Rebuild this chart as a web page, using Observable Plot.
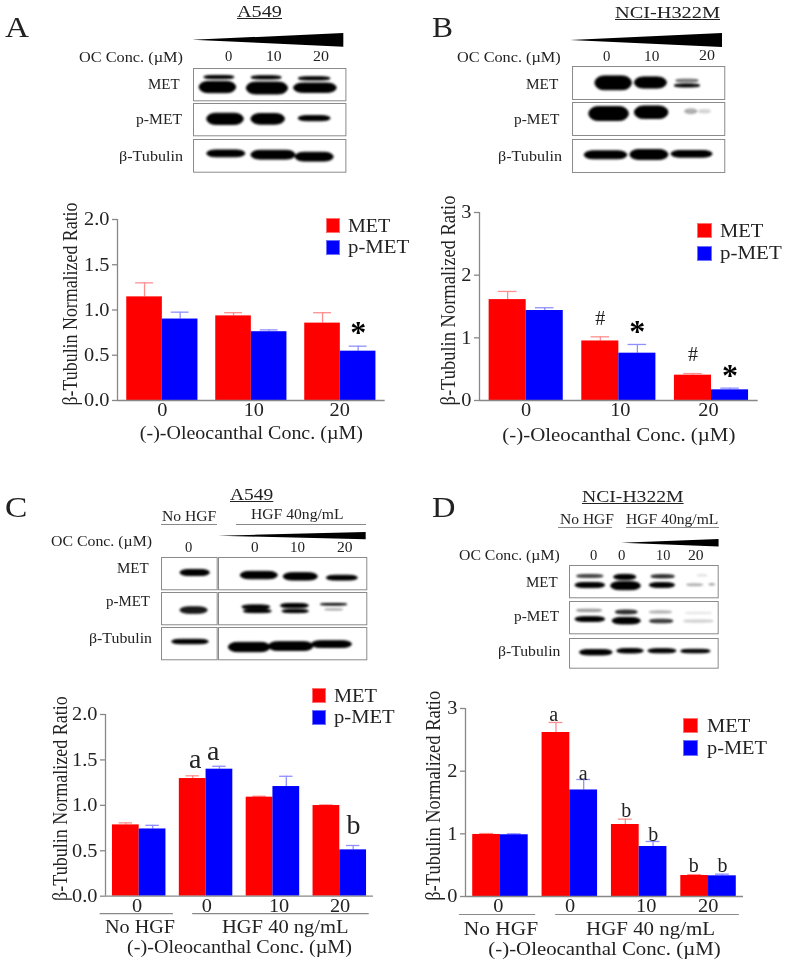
<!DOCTYPE html>
<html>
<head>
<meta charset="utf-8">
<script src="https://cdn.jsdelivr.net/npm/d3@7"></script>
<script src="https://cdn.jsdelivr.net/npm/@observablehq/plot@0.6"></script>
<style>
html,body{margin:0;padding:0;background:#fff}
#page{position:relative;width:787px;height:962px;overflow:hidden;font-family:"Liberation Serif",serif;color:#222;filter:blur(0.35px)}
#page span{position:absolute;white-space:nowrap;line-height:0;transform-origin:left center}
#page svg{position:absolute;overflow:visible}
</style>
</head>
<body>
<div id="page"></div>
<script>
// ---------- bar chart values ----------
const ticksAC = [0, 0.5, 1, 1.5, 2];
const ticksBD = [0, 1, 2, 3];
const seriesNames = ["MET", "p-MET"];
const seriesFill = {"MET": "#ff0000", "p-MET": "#0000ff"};
const seriesErrorColor = {"MET": "#ff8f8f", "p-MET": "#8f8fff"};

const labelsA = ["0", "10", "20"];
const metA = [1.145, 0.935, 0.855];
const metErrA = [1.30, 0.97, 0.97];
const pmetA = [0.90, 0.76, 0.545];
const pmetErrA = [0.976, 0.78, 0.60];

const labelsB = ["0", "10", "20"];
const metB = [1.61, 0.95, 0.404];
const metErrB = [1.74, 1.016, 0.43];
const pmetB = [1.436, 0.755, 0.17];
const pmetErrB = [1.48, 0.894, 0.197];

const labelsC = ["0", "0", "10", "20"];
const metC = [0.785, 1.295, 1.09, 0.998];
const metErrC = [0.807, 1.325, 1.10, 1.005];
const pmetC = [0.74, 1.398, 1.207, 0.51];
const pmetErrC = [0.78, 1.43, 1.32, 0.558];

const labelsD = ["0", "0", "10", "20"];
const metD = [0.99, 2.617, 1.149, 0.335];
const metErrD = [1.005, 2.777, 1.234, 0.35];
const pmetD = [0.985, 1.70, 0.798, 0.33];
const pmetErrD = [1.0, 1.867, 0.878, 0.356];

// significance marks: label, position along the bar axis, height on the value axis
const notesA = [["*", 6.5, 0.807]];
const notesB = [["#", 3.0, 1.31], ["*", 4.0, 1.17], ["#", 5.5, 0.734], ["*", 6.5, 0.479]];
const notesC = [["a", 3.09, 1.51], ["a", 3.77, 1.596], ["b", 9.01, 0.778]];
const notesD = [["a", 2.92, 2.9], ["a", 3.98, 1.963], ["b", 5.53, 1.378], ["b", 6.51, 0.995], ["b", 7.97, 0.489], ["b", 9.0, 0.489]];

// where each tick label sits along the bar axis
const tickAtA = [1, 3.57, 5.98];
const tickAtB = [1, 3.54, 5.92];
const tickAtC = [0.92, 3.53, 6.23, 8.51];
const tickAtD = [0.92, 3.51, 6.25, 8.49];

const hgfGroupsC = [["No HGF", 1.03, -0.46, 2.28], ["HGF 40 ng/mL", 6.46, 3.0, 9.6]];
const hgfGroupsD = [["No HGF", 1.02, -0.48, 2.27], ["HGF 40 ng/mL", 6.41, 2.99, 9.61]];

// ---------- western blot bands: [x1, x2, centre, thickness, darkness], in % of the strip ----------
const blotA = [
  [[7,27,28,10,1],[4,28,59,35,1],[38,58,29,10,1],[35,62,62,37,1],[69,90,32,10,1],[66,94,61,29,1]],
  [[9,33,49,35,1],[38,60,49,33,1],[69,90,47,16,1]],
  [[9,34,44,21,1],[38,67,48,27,1],[67,92,54,27,1]]
];
const blotB = [
  [[15,39,51,42,1],[41,62,50,34,1],[68,83,44,8,0.5],[67,84,59,9,1]],
  [[11,37,35,42,1],[41,63,31,38,1],[74,82,28,14,0.3],[83,91,28,10,0.15]],
  [[8,36,48,24,1],[38,63,47,30,1],[65,92,45,20,1]]
];
const blotCsmall = [
  [[34,87,48,19,1]],
  [[34,83,56,20,0.9]],
  [[19,85,45,14,1]]
];
const blotCbig = [
  [[15,40,56,23,1],[44,67,60,23,1],[73,94,64,15,1]],
  [[16,35,46,12,1],[17,36,59,10,1],[42,61,42,13,1],[43,61,59,10,1],[69,87,38,5,1],[72,84,54,3,0.3]],
  [[7,35,62,29,1],[34,64,59,27,1],[63,90,53,21,1]]
];
const blotD = [
  [[5,23,34,9,0.7],[4,24,62,16,1],[30,45,37,16,1],[28,48,64,25,1],[55,71,35,10,0.8],[54,71,62,15,1],[79,90,61,6,0.25],[94,98,60,4,0.3],[86,93,32,4,0.1]],
  [[5,22,29,7,0.35],[4,24,56,15,1],[31,46,34,12,0.8],[29,48,61,20,1],[54,69,34,7,0.25],[54,70,62,11,0.75],[78,96,37,5,0.08],[77,97,62,7,0.15]],
  [[7,29,48,18,1],[32,50,43,15,1],[53,72,43,14,1],[75,95,44,12,1]]
];
const wedgeDose = [0, 20];
const wedgeSpread = [0, 1];

// ---------- helpers ----------
const page = document.getElementById("page");
const serif = '"Liberation Serif", serif';

function label(text, x0, x1, base, size, opts = {}) {
  const s = document.createElement("span");
  s.textContent = text;
  s.style.fontSize = size + "px";
  s.style.left = x0 + "px";
  s.style.top = (base - 0.3375 * size) + "px";
  if (opts.underline) s.style.textDecoration = "underline";
  page.appendChild(s);
  const w = s.getBoundingClientRect().width;
  s.style.transform = `scaleX(${(x1 - x0) / w})`;
}
function box(x0, x1, y0, y1, color, border) {
  const d = document.createElement("div");
  d.style.cssText = `position:absolute;left:${x0}px;top:${y0}px;width:${x1 - x0}px;height:${y1 - y0}px;background:${color};` + (border ? `outline:1px solid ${border};outline-offset:-1px;` : "");
  page.appendChild(d);
}
function place(svg, left, top) {
  svg.style.left = left + "px";
  svg.style.top = top + "px";
  page.appendChild(svg);
  return svg;
}
function strip(left, top, w, h, bands) {
  const rows = bands.map(([x1, x2, c, t, o]) => ({x1, x2, y1: c - t / 2, y2: c + t / 2, o}));
  place(Plot.plot({
    width: w, height: h, margin: 0,
    style: {background: "transparent", overflow: "visible"},
    x: {domain: [0, 100], axis: null},
    y: {domain: [100, 0], axis: null},
    marks: [
      Plot.rect(rows, {x1: "x1", x2: "x2", y1: "y1", y2: "y2", fill: "#000", fillOpacity: "o", stroke: "#000", strokeOpacity: "o", strokeWidth: 1, rx: 9, ry: 40, imageFilter: "blur(0.85px)"}),
      Plot.frame({stroke: "#8a8a8a", strokeWidth: 1})
    ]
  }), left, top);
}
function wedge(left, top, w, h) {
  const rows = wedgeDose.map((c, i) => ({c, hi: wedgeSpread[i], lo: -wedgeSpread[i]}));
  place(Plot.plot({
    width: w, height: h, margin: 0,
    style: {background: "transparent", overflow: "visible"},
    x: {domain: [0, 20], axis: null},
    y: {domain: [-1, 1], axis: null},
    marks: [Plot.areaY(rows, {x: "c", y1: "lo", y2: "hi", fill: "#000"})]
  }), left, top);
}
function legend(rx0, rx1, ry0, ry1, by0, by1, tx0, metEnd, pmetEnd, mb, pb) {
  box(rx0, rx1, ry0, ry1, seriesFill["MET"], "#ff7070");
  box(rx0, rx1, by0, by1, seriesFill["p-MET"], "#7070ff");
  label("MET", tx0, metEnd, mb, 18);
  label("p-MET", tx0, pmetEnd, pb, 18);
}

function barChart(c) {
  const edge = 0.26;
  const n = c.labels.length;
  const rows = [];
  c.labels.forEach((g, i) => {
    seriesNames.forEach((s, j) => {
      const v = (j ? c.pmet : c.met)[i], e = (j ? c.pmetErr : c.metErr)[i];
      const x = 2.5 * i + j;
      rows.push({series: s, x1: x, x2: x + 1, mid: x + 0.5, capL: x + 0.25, capR: x + 0.75, v, e});
    });
  });
  const tickLabel = new Map(c.tickAt.map((t, i) => [t, c.labels[i]]));
  const notes = c.notes.map(([text, x, y]) => ({text, x, y}));
  const groups = (c.groups || []).map(([text, mid, a, b]) => ({text, mid, a, b, zero: 0}));
  const L = c.axisX - 75, T = c.yTop - 15, W = c.axisEnd - L + 15, H = c.y0 - T + 60;
  const svg = Plot.plot({
    width: W, height: H,
    marginLeft: c.axisX - L, marginRight: L + W - c.axisEnd,
    marginTop: c.yTop - T, marginBottom: T + H - c.y0,
    style: {background: "transparent", overflow: "visible", fontFamily: serif, color: "#222"},
    x: {domain: [-edge, 2.5 * (n - 1) + 2 + edge]},
    y: {domain: [0, c.top]},
    marks: [
      Plot.ruleX(rows, {x: "mid", y1: "v", y2: "e", stroke: d => seriesErrorColor[d.series], strokeWidth: 1.3}),
      Plot.ruleY(rows, {y: "e", x1: "capL", x2: "capR", stroke: d => seriesErrorColor[d.series], strokeWidth: 1.3}),
      Plot.rectY(rows, {x1: "x1", x2: "x2", y1: 0, y2: "v", fill: d => seriesFill[d.series]}),
      Plot.axisY({ticks: c.ticks, tickFormat: c.tickFormat, tickSize: 5, tickPadding: 3, fontSize: 18, stroke: "#888", strokeWidth: 1.3, fill: "#222", label: null}),
      Plot.axisX({ticks: c.tickAt, tickFormat: d => tickLabel.get(d), tickSize: 0, tickPadding: 3, fontSize: 18, fill: "#222", label: null}),
      Plot.ruleX([-edge], {y1: 0, y2: c.top, stroke: "#888", strokeWidth: 1.3}),
      Plot.ruleY([0], {stroke: "#888", strokeWidth: 1.3}),
      Plot.text(notes.filter(d => d.text === "*"), {x: "x", y: "y", text: "text", fontSize: 32, fontWeight: 700, fill: "#000", dy: 5}),
      Plot.text(notes.filter(d => d.text !== "*"), {x: "x", y: "y", text: "text", fontSize: c.noteSize, fill: "#222"}),
      Plot.text([c.yTitle], {frameAnchor: "left", textAnchor: "middle", lineAnchor: "middle", rotate: -90, fontSize: 20, fill: "#222", dx: c.yTitleX - c.axisX, dy: c.yTitleDy}),
      Plot.text([c.xTitle], {frameAnchor: "bottom", lineAnchor: "middle", fontSize: 18, fill: "#222", dy: c.xTitleBase - c.y0 - 5.8}),
      Plot.ruleY(groups, {y: "zero", x1: "a", x2: "b", stroke: "#888", strokeWidth: 1.2, dy: c.groupRuleDy}),
      Plot.text(groups, {x: "mid", text: "text", frameAnchor: "bottom", lineAnchor: "middle", fontSize: 18, fill: "#222", dy: c.groupBase - c.y0 - 5.8})
    ]
  });
  place(svg, L, T);
  const lengths = c.lengths;
  svg.querySelectorAll("text").forEach(t => {
    const s = t.textContent, len = t.getComputedTextLength();
    if (["*", "#", "a", "b"].includes(s)) return;
    const target = lengths[s] ?? len * 1.13;
    t.setAttribute("textLength", target);
    t.setAttribute("lengthAdjust", "spacingAndGlyphs");
  });
}

const yTitle = "β-Tubulin Normalized Ratio";
const xTitle = "(-)-Oleocanthal Conc. (µM)";

// ---------- Panel A ----------
label("A", 5, 29, 36.7, 30);
label("A549", 236.7, 281.7, 17.3, 16, {underline: true});
wedge(192.3, 33.3, 151.4, 13.7);
label("OC Conc. (µM)", 79, 183, 61.7, 15);
label("0", 225, 232.3, 60.7, 15); label("10", 266, 281.7, 60.7, 15); label("20", 313.3, 329.3, 60.7, 15);
label("MET", 147.7, 179.3, 89.3, 15); label("p-MET", 135.7, 181.7, 124, 15); label("β-Tubulin", 119.3, 183.3, 161, 15);
strip(193.3, 67.7, 152.4, 32.3, blotA[0]);
strip(193.3, 103.3, 152.4, 32.3, blotA[1]);
strip(193.3, 139.3, 152.4, 32.7, blotA[2]);
barChart({labels: labelsA, met: metA, metErr: metErrA, pmet: pmetA, pmetErr: pmetErrA, notes: notesA, tickAt: tickAtA,
  axisX: 117.3, axisEnd: 385, yTop: 219.3, y0: 400.3, top: 2, ticks: ticksAC, tickFormat: d3.format(".1f"), noteSize: 20,
  yTitle, xTitle, yTitleX: 70, yTitleDy: -6, xTitleBase: 439, lengths: {[yTitle]: 203, [xTitle]: 223}});
legend(326, 340, 218.3, 233.3, 240, 255, 347.7, 390, 409, 231.7, 253);

// ---------- Panel B ----------
label("B", 432.3, 453.3, 36.7, 30);
label("NCI-H322M", 615, 720, 18.3, 16, {underline: true});
wedge(570, 32.7, 152, 14);
label("OC Conc. (µM)", 457.3, 561, 62.3, 15);
label("0", 603.3, 610.7, 61.3, 15); label("10", 644, 659.3, 61.3, 15); label("20", 699, 715, 60.3, 15);
label("MET", 526, 558.3, 89.3, 15); label("p-MET", 514, 559.3, 124, 15); label("β-Tubulin", 497.7, 561.7, 160.7, 15);
strip(571.7, 66.3, 152.3, 33, blotB[0]);
strip(571.7, 102.3, 152.3, 33, blotB[1]);
strip(571.7, 139, 152.3, 33, blotB[2]);
barChart({labels: labelsB, met: metB, metErr: metErrB, pmet: pmetB, pmetErr: pmetErrB, notes: notesB, tickAt: tickAtB,
  axisX: 479, axisEnd: 757.7, yTop: 212.3, y0: 400.3, top: 3, ticks: ticksBD, tickFormat: d3.format("d"), noteSize: 20,
  yTitle, xTitle, yTitleX: 448, yTitleDy: -6, xTitleBase: 440.7, lengths: {[yTitle]: 210, [xTitle]: 233}});
legend(697.3, 712.3, 222.7, 238.3, 246, 261, 720, 763.3, 781.7, 237.3, 259);

// ---------- Panel C ----------
label("C", 5, 27.3, 516.7, 30);
label("A549", 230, 273.3, 500, 16, {underline: true});
label("No HGF", 161.7, 216, 520.7, 15); box(161, 216.7, 523.6, 524.6, "#888");
label("HGF 40ng/mL", 250.7, 343.3, 519.3, 15); box(236, 365.7, 523.6, 524.6, "#888");
wedge(218.3, 532, 147.7, 7.3);
label("OC Conc. (µM)", 50.7, 151.7, 546, 15);
label("0", 185, 192.3, 551.7, 15); label("0", 250.7, 258.3, 551.7, 15); label("10", 290, 305, 551.7, 15); label("20", 336.7, 352.3, 551.7, 15);
label("MET", 117.3, 149, 573.3, 15); label("p-MET", 106, 150, 606, 15); label("β-Tubulin", 89.3, 152.3, 642.7, 15);
strip(161, 556.7, 55.7, 32.3, blotCsmall[0]);
strip(161, 592, 55.7, 32.3, blotCsmall[1]);
strip(161, 626.7, 55.7, 32.3, blotCsmall[2]);
strip(218.3, 556.7, 148.3, 32.3, blotCbig[0]);
strip(218.3, 592, 148.3, 32.3, blotCbig[1]);
strip(218.3, 626.7, 148.3, 32.3, blotCbig[2]);
barChart({labels: labelsC, met: metC, metErr: metErrC, pmet: pmetC, pmetErr: pmetErrC, notes: notesC, tickAt: tickAtC, groups: hgfGroupsC,
  axisX: 105.3, axisEnd: 373.3, yTop: 714, y0: 895.7, top: 2, ticks: ticksAC, tickFormat: d3.format(".1f"), noteSize: 28,
  yTitle, xTitle, yTitleX: 60, yTitleDy: -6.8, xTitleBase: 953, groupBase: 933, groupRuleDy: 17.5,
  lengths: {[yTitle]: 204.7, [xTitle]: 225, "No HGF": 70, "HGF 40 ng/mL": 126.6}});
legend(311.7, 326, 688.3, 703.3, 710, 725, 334.3, 377.3, 395, 701.7, 723.3);

// ---------- Panel D ----------
label("D", 432.3, 455.7, 516.7, 30);
label("NCI-H322M", 581.7, 683.3, 502.7, 16, {underline: true});
label("No HGF", 560, 614, 524, 15); box(558.3, 611.7, 527.2, 528.2, "#888");
label("HGF 40ng/mL", 626, 718.3, 524, 15); box(626, 719, 527.2, 528.2, "#888");
wedge(620.7, 538.7, 97.6, 7.6);
label("OC Conc. (µM)", 459.3, 560, 560.3, 15);
label("0", 590, 597.3, 560.3, 15); label("0", 618.3, 625.7, 560.3, 15); label("10", 655.7, 670, 560.3, 15); label("20", 688.3, 704, 560.3, 15);
label("MET", 526, 557.7, 587, 15); label("p-MET", 514.3, 559.3, 621, 15); label("β-Tubulin", 498.3, 560.7, 656, 15);
strip(569, 564.7, 148.7, 32.3, blotD[0]);
strip(569, 601.3, 148.7, 32.3, blotD[1]);
strip(569, 638, 148.7, 29.7, blotD[2]);
barChart({labels: labelsD, met: metD, metErr: metErrD, pmet: pmetD, pmetErr: pmetErrD, notes: notesD, tickAt: tickAtD, groups: hgfGroupsD,
  axisX: 465.3, axisEnd: 743.3, yTop: 707.7, y0: 895.7, top: 3, ticks: ticksBD, tickFormat: d3.format("d"), noteSize: 20,
  yTitle, xTitle, yTitleX: 433, yTitleDy: -6.7, xTitleBase: 954, groupBase: 934.3, groupRuleDy: 18,
  lengths: {[yTitle]: 210, [xTitle]: 232.3, "No HGF": 74.3, "HGF 40 ng/mL": 129}});
legend(682.7, 697.7, 717.7, 733.3, 740, 755.7, 706.7, 750, 766.7, 732.3, 754.3);
</script>
</body>
</html>
